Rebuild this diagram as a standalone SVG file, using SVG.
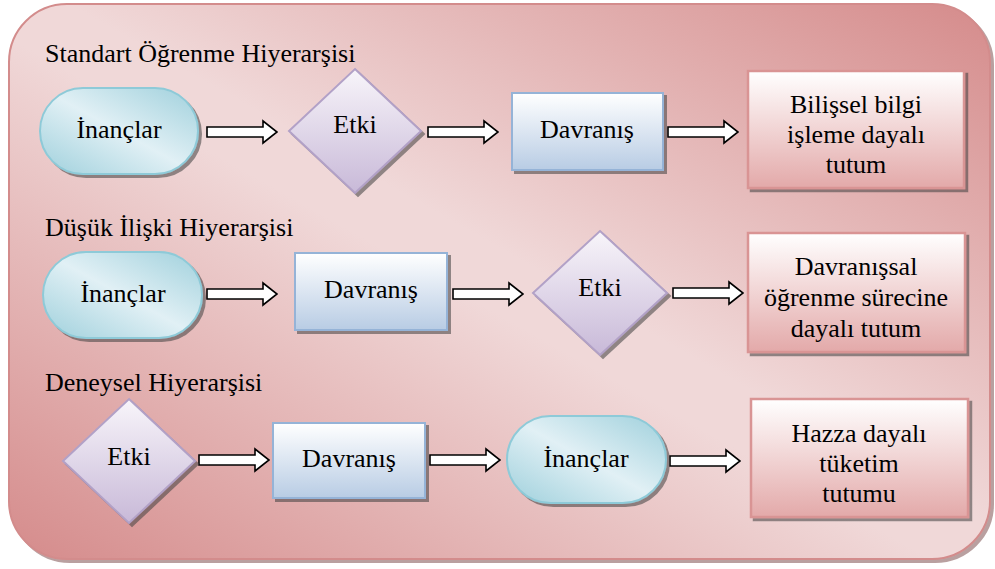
<svg xmlns="http://www.w3.org/2000/svg" xmlns:xlink="http://www.w3.org/1999/xlink" width="995" height="569" viewBox="0 0 995 569">
<defs>
<linearGradient id="bgGrad" x1="1" y1="0" x2="0" y2="1">
<stop offset="0" stop-color="#d58b8b"/>
<stop offset="0.47" stop-color="#f0d8d8"/>
<stop offset="0.53" stop-color="#f0d8d8"/>
<stop offset="1" stop-color="#d58b8b"/>
</linearGradient>
<linearGradient id="pillGrad" x1="1" y1="0" x2="0" y2="1">
<stop offset="0" stop-color="#9fd0dc"/>
<stop offset="0.5" stop-color="#e1f0f5"/>
<stop offset="1" stop-color="#9fd0dc"/>
</linearGradient>
<linearGradient id="rectGrad" x1="0" y1="0" x2="0" y2="1">
<stop offset="0" stop-color="#ffffff"/>
<stop offset="1" stop-color="#b8cce4"/>
</linearGradient>
<linearGradient id="diaGrad" x1="0" y1="0" x2="0" y2="1">
<stop offset="0" stop-color="#f8f5fa"/>
<stop offset="1" stop-color="#c8b9d8"/>
</linearGradient>
<linearGradient id="resGrad" x1="0" y1="0" x2="0" y2="1">
<stop offset="0" stop-color="#ffffff"/>
<stop offset="1" stop-color="#e3a9a9"/>
</linearGradient>
<filter id="shadow" x="-10%" y="-10%" width="130%" height="130%">
<feDropShadow dx="3" dy="3" stdDeviation="0.6" flood-color="#404040" flood-opacity="0.55"/>
</filter>
<filter id="bgShadow" x="-5%" y="-5%" width="110%" height="110%">
<feDropShadow dx="3" dy="3" stdDeviation="0.6" flood-color="#8a6060" flood-opacity="0.6"/>
</filter>
<path id="arrow" d="M0,-5 H56 V-11 L70,0 L56,11 V5 H0 Z"/>
</defs>
<style>
.bg { fill: url(#bgGrad); stroke: #d38c8c; stroke-width: 2; filter: url(#bgShadow); }
.pill { fill: url(#pillGrad); stroke: #8ecad8; stroke-width: 2; filter: url(#shadow); }
.box { fill: url(#rectGrad); stroke: #95b3d7; stroke-width: 2; filter: url(#shadow); }
.dia { fill: url(#diaGrad); stroke: #b2a1c7; stroke-width: 2; filter: url(#shadow); }
.res { fill: url(#resGrad); stroke: #d99494; stroke-width: 2.5; filter: url(#shadow); }
text { font-family: "Liberation Serif", "Times New Roman", serif; font-size: 26px; fill: #000; }
.c { text-anchor: middle; }
.arr { fill: #ffffff; stroke: #000000; stroke-width: 1.6; stroke-linejoin: miter; }
</style>

<rect class="bg" x="9" y="4" width="981" height="555" rx="58" ry="58"/>

<g id="titles">
<text x="45" y="62">Standart Öğrenme Hiyerarşisi</text>
<text x="45" y="236">Düşük İlişki Hiyerarşisi</text>
<text x="45" y="391">Deneysel Hiyerarşisi</text>
</g>

<g id="connectors">
<use href="#arrow" class="arr" x="207" y="132"/>
<use href="#arrow" class="arr" x="428" y="132"/>
<use href="#arrow" class="arr" x="668" y="132"/>
<use href="#arrow" class="arr" x="207" y="294"/>
<use href="#arrow" class="arr" x="453" y="294"/>
<use href="#arrow" class="arr" x="673" y="293"/>
<use href="#arrow" class="arr" x="199" y="460"/>
<use href="#arrow" class="arr" x="430" y="460"/>
<use href="#arrow" class="arr" x="670" y="461"/>
</g>

<g id="r1-inanclar">
<rect class="pill" x="40" y="88" width="158" height="86" rx="43" ry="43"/>
<text class="c" x="119" y="138">İnançlar</text>
</g>
<g id="r1-etki">
<polygon class="dia" points="355,69 421,131 355,193 289,131"/>
<text class="c" x="355" y="133">Etki</text>
</g>
<g id="r1-davranis">
<rect class="box" x="512" y="93" width="151" height="77"/>
<text class="c" x="587" y="138">Davranış</text>
</g>
<g id="r1-sonuc">
<rect class="res" x="748" y="71" width="216" height="117"/>
<text class="c" x="856" y="113">Bilişsel bilgi</text>
<text class="c" x="856" y="143">işleme dayalı</text>
<text class="c" x="856" y="173">tutum</text>
</g>

<g id="r2-inanclar">
<rect class="pill" x="43" y="252" width="159" height="86" rx="43" ry="43"/>
<text class="c" x="123" y="302">İnançlar</text>
</g>
<g id="r2-davranis">
<rect class="box" x="295" y="253" width="152" height="77"/>
<text class="c" x="371" y="298">Davranış</text>
</g>
<g id="r2-etki">
<polygon class="dia" points="600,231 667,293 600,355 533,293"/>
<text class="c" x="600" y="296">Etki</text>
</g>
<g id="r2-sonuc">
<rect class="res" x="748" y="233" width="217" height="119"/>
<text class="c" x="856" y="275">Davranışsal</text>
<text class="c" x="856" y="306">öğrenme sürecine</text>
<text class="c" x="856" y="337">dayalı tutum</text>
</g>

<g id="r3-etki">
<polygon class="dia" points="129,399 195,461 129,523 63,461"/>
<text class="c" x="129" y="465">Etki</text>
</g>
<g id="r3-davranis">
<rect class="box" x="273" y="423" width="152" height="75"/>
<text class="c" x="349" y="467">Davranış</text>
</g>
<g id="r3-inanclar">
<rect class="pill" x="507" y="416" width="159" height="87" rx="43.5" ry="43.5"/>
<text class="c" x="586" y="467">İnançlar</text>
</g>
<g id="r3-sonuc">
<rect class="res" x="751" y="399" width="217" height="118"/>
<text class="c" x="859" y="442">Hazza dayalı</text>
<text class="c" x="859" y="472">tüketim</text>
<text class="c" x="859" y="502">tutumu</text>
</g>
</svg>
